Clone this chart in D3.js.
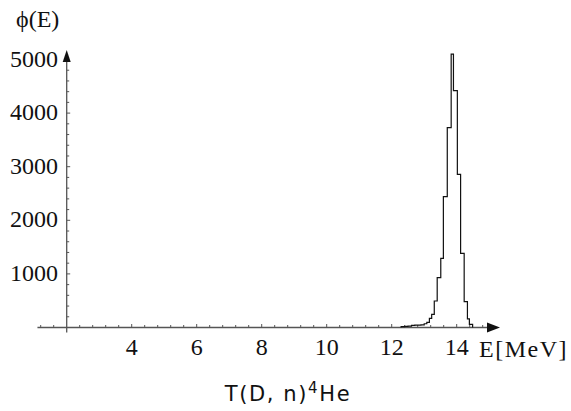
<!DOCTYPE html>
<html>
<head>
<meta charset="utf-8">
<script src="https://cdn.jsdelivr.net/npm/d3@7"></script>
<style>
  body { margin: 0; background: white; }
  svg { display: block; }
</style>
</head>
<body>
<svg id="chart" width="571" height="411"></svg>
<script>
var binEdges = [12.29, 12.40, 12.50, 12.61, 12.71, 12.81, 12.90, 13.00, 13.08,
                13.16, 13.23, 13.31, 13.40, 13.51, 13.59, 13.71, 13.83, 13.90,
                14.02, 14.12, 14.23, 14.33, 14.39, 14.49];
var binCounts = [18, 22, 24, 40, 45, 46, 50, 70, 97,
                 172, 246, 494, 929, 1291, 2440, 3728, 5100,
                 4418, 2858, 1384, 481, 160, 60];

var xTickValues = [4, 6, 8, 10, 12, 14];
var yTickValues = [1000, 2000, 3000, 4000, 5000];

var axisColor = "#555";
var tickFont = "'Liberation Serif', 'Times New Roman', serif";

var svg = d3.select("#chart");

var x = d3.scaleLinear().domain([2, 14]).range([66.7, 456.7]);
var y = d3.scaleLinear().domain([0, 5000]).range([327.5, 59.5]);

// ---- histogram outline ----
var pts = [[binEdges[0], 0]];
binCounts.forEach((c, i) => pts.push([binEdges[i], c]));
pts.push([binEdges[binEdges.length - 1], 0]);

var stepLine = d3.line()
    .x(d => x(d[0]))
    .y(d => y(d[1]))
    .curve(d3.curveStepAfter);

// ---- axes ----
var axes = svg.append("g");

// horizontal axis
var xStart = x(1.1), xEnd = 500;
axes.append("line")
    .attr("x1", xStart).attr("x2", xEnd - 8)
    .attr("y1", y(0)).attr("y2", y(0))
    .attr("stroke", axisColor).attr("stroke-width", 1.3);
axes.append("path")
    .attr("d", `M ${xEnd} ${y(0)} L ${xEnd - 13} ${y(0) - 5} L ${xEnd - 13} ${y(0) + 5} Z`)
    .attr("fill", "#111");

// vertical axis
var yTop = 50;
axes.append("line")
    .attr("x1", x(2)).attr("x2", x(2))
    .attr("y1", y(0) + 5).attr("y2", yTop + 8)
    .attr("stroke", axisColor).attr("stroke-width", 1.3);
axes.append("path")
    .attr("d", `M ${x(2)} ${yTop} L ${x(2) - 4} ${yTop + 12} L ${x(2) + 4} ${yTop + 12} Z`)
    .attr("fill", "#111");

// x ticks: major every 2, minor every 0.4
var xMinor = d3.range(1.2, 15.0, 0.4).filter(v => Math.abs(v - 2) > 0.01);
axes.selectAll(".xtick")
    .data(xMinor)
    .enter()
    .append("line")
    .attr("class", "xtick")
    .attr("x1", d => x(d)).attr("x2", d => x(d))
    .attr("y1", y(0)).attr("y2", d => {
        var major = Math.abs(d / 2 - Math.round(d / 2)) < 0.01;
        return y(0) - (major ? 3.5 : 2.5);
    })
    .attr("stroke", axisColor).attr("stroke-width", 1);

// y ticks: every 200
var yMinor = d3.range(200, 5000, 200);
axes.selectAll(".ytick")
    .data(yMinor)
    .enter()
    .append("line")
    .attr("class", "ytick")
    .attr("x1", x(2)).attr("x2", d => x(2) + (d % 1000 === 0 ? 3.5 : 2.5))
    .attr("y1", d => y(d)).attr("y2", d => y(d))
    .attr("stroke", axisColor).attr("stroke-width", 1);

// histogram drawn over the axis
svg.append("path")
    .attr("d", stepLine(pts))
    .attr("fill", "none")
    .attr("stroke", "#111")
    .attr("stroke-width", 1.2);

// tick labels
svg.selectAll(".xlab")
    .data(xTickValues)
    .enter()
    .append("text")
    .attr("class", "xlab")
    .attr("x", d => x(d))
    .attr("y", 355)
    .attr("text-anchor", "middle")
    .attr("font-family", tickFont)
    .attr("font-size", 24)
    .attr("fill", "#111")
    .text(d => d);

svg.selectAll(".ylab")
    .data(yTickValues)
    .enter()
    .append("text")
    .attr("class", "ylab")
    .attr("x", 58)
    .attr("y", d => y(d) + 7)
    .attr("text-anchor", "end")
    .attr("font-family", tickFont)
    .attr("font-size", 24)
    .attr("fill", "#111")
    .text(d => d);

// axis titles
svg.append("text")
    .attr("x", 16).attr("y", 27)
    .attr("font-family", tickFont)
    .attr("font-size", 24)
    .attr("fill", "#111")
    .text("\u03D5(E)");

svg.append("text")
    .attr("x", 479).attr("y", 357)
    .attr("font-family", tickFont)
    .attr("font-size", 24)
    .attr("letter-spacing", 1.5)
    .attr("fill", "#111")
    .text("E[MeV]");

// caption
var cap = svg.append("text")
    .attr("x", 288).attr("y", 401)
    .attr("text-anchor", "middle")
    .attr("font-family", "'DejaVu Sans', sans-serif")
    .attr("font-size", 21)
    .attr("letter-spacing", 1.6)
    .attr("fill", "#111");
cap.append("tspan").text("T(D, n)");
cap.append("tspan").attr("dy", -8).attr("font-size", 15).text("4");
cap.append("tspan").attr("dy", 8).text("He");
</script>
</body>
</html>
